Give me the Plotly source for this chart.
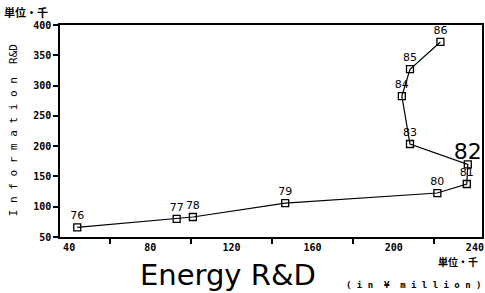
import plotly.graph_objects as go

years = ["76", "77", "78", "79", "80", "81", "82", "83", "84", "85", "86"]
energy = [44, 93, 101, 146.5, 221.5, 236, 236.5, 208, 204, 208, 223]
information = [66, 80, 83, 106, 122.6, 137.5, 170, 203.5, 282.7, 327, 372]
x_ticks = [40, 80, 120, 160, 200, 240]
y_ticks = [50, 100, 150, 200, 250, 300, 350, 400]

fig = go.Figure()
labels_small = [y if y != "82" else "" for y in years]
fig.add_trace(go.Scatter(
    x=energy, y=information, mode="lines+markers+text",
    text=labels_small, textposition="top center",
    textfont=dict(family="DejaVu Sans", size=11, color="black"),
    line=dict(color="black", width=1.2),
    marker=dict(symbol="square-open", size=7, color="black", line=dict(width=1.3)),
    cliponaxis=False, showlegend=False,
))
fig.add_trace(go.Scatter(
    x=[energy[6]], y=[information[6]], mode="text", text=["82"],
    textposition="top center",
    textfont=dict(family="DejaVu Sans", size=22, color="black"),
    cliponaxis=False, showlegend=False,
))

L, R, T, B = 60, 484, 25, 237
fig.update_layout(
    width=485, height=293,
    margin=dict(l=L, r=485 - R, t=T, b=293 - B),
    paper_bgcolor="white", plot_bgcolor="white",
    font=dict(family="DejaVu Sans Mono", color="black"),
    xaxis=dict(
        range=[35.5, 243.5], tickvals=x_ticks, ticks="",
        tickfont=dict(family="DejaVu Sans Mono", size=10, color="black", weight="bold"),
        showline=True, linecolor="black", linewidth=1.5, mirror=True,
        showgrid=False, zeroline=False,
        minor=dict(tick0=60, dtick=40, ticks="outside", ticklen=5, tickcolor="black", tickwidth=1.5),
    ),
    yaxis=dict(
        range=[50, 400], tickvals=y_ticks, ticks="outside", ticklen=5,
        tickcolor="black", tickwidth=1.5,
        tickfont=dict(family="DejaVu Sans Mono", size=10, color="black", weight="bold"),
        showline=True, linecolor="black", linewidth=1.5, mirror=True,
        showgrid=False, zeroline=False,
    ),
)

anns = [
    dict(text="単位・千", x=2, y=12, xanchor="left", yanchor="middle",
         font=dict(family="Noto Sans CJK JP", size=11, color="black", weight="bold")),
    dict(text="単位・千", x=482, y=261, xanchor="right", yanchor="middle",
         font=dict(family="Noto Sans CJK JP", size=10, color="black", weight="bold")),
    dict(text="Energy R&D", x=138, y=275, xanchor="left", yanchor="middle",
         font=dict(family="DejaVu Sans", size=29, color="black")),
    dict(text="( i n  ¥  m i l l i o n )", x=485, y=285, xanchor="right", yanchor="middle",
         font=dict(family="DejaVu Sans Mono", size=9, color="black", weight="bold")),
    dict(text="I n f o r m a t i o n  R&D", x=13, y=130, xanchor="center", yanchor="middle",
         textangle=-90,
         font=dict(family="DejaVu Sans Mono", size=11, color="black")),
]
for a in anns:
    fig.add_annotation(
        text=a["text"], showarrow=False,
        xref="paper", yref="paper",
        x=(a["x"] - L) / (R - L), y=1 - (a["y"] - T) / (B - T),
        xanchor=a["xanchor"], yanchor=a["yanchor"], font=a["font"],
        textangle=a.get("textangle", 0),
    )

fig.write_html("out.html", config={"displayModeBar": False},
               post_script="document.body.style.margin='0';")
